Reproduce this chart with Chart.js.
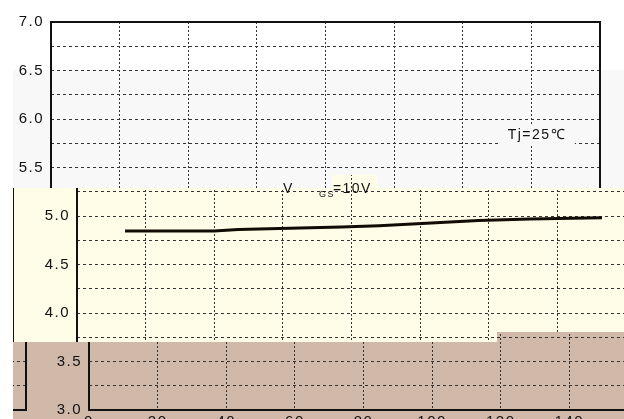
<!DOCTYPE html>
<html>
<head>
<meta charset="utf-8">
<script src="https://cdn.jsdelivr.net/npm/chart.js@4.4.1/dist/chart.umd.min.js"></script>
<style>
html, body { margin: 0; padding: 0; background: #fff; }
#wrap { position: relative; width: 624px; height: 419px; overflow: hidden; background: #fff; }
.piece { position: absolute; overflow: hidden; }
.piece canvas { position: absolute; }
</style>
</head>
<body>
<div id="wrap"></div>
<script>
// curve
const xValues = [14, 40, 47, 59, 77, 88, 106, 117, 132, 153];
const yValues = [4.845, 4.846, 4.862, 4.871, 4.887, 4.900, 4.932, 4.953, 4.968, 4.982];

const xTicks = [0, 20, 40, 60, 80, 100, 120, 140, 160];
const xLabels = [0, 20, 40, 60, 80, 100, 120, 140];
const yTicks = [3.0, 3.25, 3.5, 3.75, 4.0, 4.25, 4.5, 4.75, 5.0, 5.25, 5.5, 5.75, 6.0, 6.25, 6.5, 6.75, 7.0];
const yLabels = [3.0, 3.5, 4.0, 4.5, 5.0, 5.5, 6.0, 6.5, 7.0];

const tjText = "Tj=25\u2103";
const tjAt = [141.6, 5.835];
const vgsAt = [60, 5.24];

const FONT = "'Liberation Sans', Arial, sans-serif";
const INK = "#111";

// the picture is cut in strips that are slid sideways (wrapping round)
const YELLOW = "#fffde7", BROWN = "#d1b9aa", GREY = "#f8f8f8";
const pieces = [
    [0, 0, 624, 419, "#ffffff", 0],
    [13, 70, 611, 118, GREY, 0],
    [332, 175, 45, 13, YELLOW, 26],
    [13, 188, 26, 154, YELLOW, 26 - 613],
    [39, 188, 458, 154, YELLOW, 26],
    [497, 188, 127, 144, YELLOW, 26],
    [13, 342, 38, 77, BROWN, 38 - 612],
    [51, 342, 446, 77, BROWN, 38],
    [497, 332, 127, 87, BROWN, 38]
];

const notes = {
    id: "notes",
    beforeDraw(chart) {
        chart.ctx.letterSpacing = "1.5px";
    },
    afterDatasetsDraw(chart, args, opts) {
        const { ctx, chartArea: a, scales: { x, y } } = chart;
        ctx.save();
        ctx.letterSpacing = "1.5px";
        ctx.lineWidth = 2;
        ctx.strokeStyle = "#111";
        ctx.strokeRect(a.left, a.top, a.right - a.left, a.bottom - a.top);

        ctx.fillStyle = GREY;
        const tx = x.getPixelForValue(tjAt[0]);
        const ty = y.getPixelForValue(tjAt[1]);
        ctx.fillRect(tx - 38, ty - 10, 76, 20);
        ctx.fillStyle = INK;
        ctx.font = "14px " + FONT;
        ctx.textAlign = "center";
        ctx.textBaseline = "middle";
        ctx.fillText(tjText, tx, ty);

        const vx = x.getPixelForValue(vgsAt[0]) + opts.dx;
        const vy = y.getPixelForValue(vgsAt[1]);
        ctx.textAlign = "left";
        ctx.textBaseline = "alphabetic";
        ctx.fillText("V", vx, vy);
        ctx.font = "9px " + FONT;
        ctx.fillText("GS", vx + 36, vy + 4);
        ctx.font = "14px " + FONT;
        ctx.fillText("=10V", vx + 50, vy);
        ctx.restore();
    }
};

function makeChart(canvas, dx) {
    return new Chart(canvas, {
        type: "line",
        data: {
            datasets: [{
                data: xValues.map((v, i) => ({ x: v, y: yValues[i] })),
                borderColor: "#120a04",
                borderWidth: 3,
                pointRadius: 0,
                tension: 0
            }]
        },
        options: {
            responsive: false,
            animation: false,
            events: [],
            layout: { padding: { left: 0, top: 22, right: 24, bottom: 0 } },
            plugins: { legend: { display: false }, tooltip: { enabled: false }, notes: { dx: dx } },
            scales: {
                x: {
                    type: "linear",
                    min: 0,
                    max: 160,
                    afterBuildTicks: s => { s.ticks = xTicks.map(v => ({ value: v })); },
                    afterFit: s => { s.height = 9; s.paddingLeft = 0; s.paddingRight = 0; },
                    grid: { color: "#333", lineWidth: 1, drawTicks: false },
                    border: { display: false, dash: [2, 2] },
                    ticks: {
                        autoSkip: false,
                        maxRotation: 0,
                        padding: 3,
                        color: INK,
                        font: { family: FONT, size: 15 },
                        callback: v => xLabels.includes(v) ? String(v) : ""
                    }
                },
                y: {
                    min: 3,
                    max: 7,
                    afterBuildTicks: s => { s.ticks = yTicks.map(v => ({ value: v })); },
                    afterFit: s => { s.width = 51; s.paddingTop = 0; s.paddingBottom = 0; },
                    grid: { color: "#333", lineWidth: 1, drawTicks: false },
                    border: { display: false, dash: [3, 3] },
                    ticks: {
                        autoSkip: false,
                        padding: 7,
                        color: INK,
                        font: { family: FONT, size: 15 },
                        callback: v => yLabels.includes(v) ? v.toFixed(1) : ""
                    }
                }
            }
        },
        plugins: [notes]
    });
}

const wrap = document.getElementById("wrap");
pieces.forEach(([px, py, w, h, bg, off]) => {
    const div = document.createElement("div");
    div.className = "piece";
    div.style.cssText = `left:${px}px;top:${py}px;width:${w}px;height:${h}px;background:${bg}`;
    const canvas = document.createElement("canvas");
    canvas.width = 624;
    canvas.height = 419;
    canvas.style.cssText = `left:${off - px}px;top:${-py}px;width:624px;height:419px`;
    div.appendChild(canvas);
    wrap.appendChild(div);
    makeChart(canvas, 26 - off);
});
</script>
</body>
</html>
